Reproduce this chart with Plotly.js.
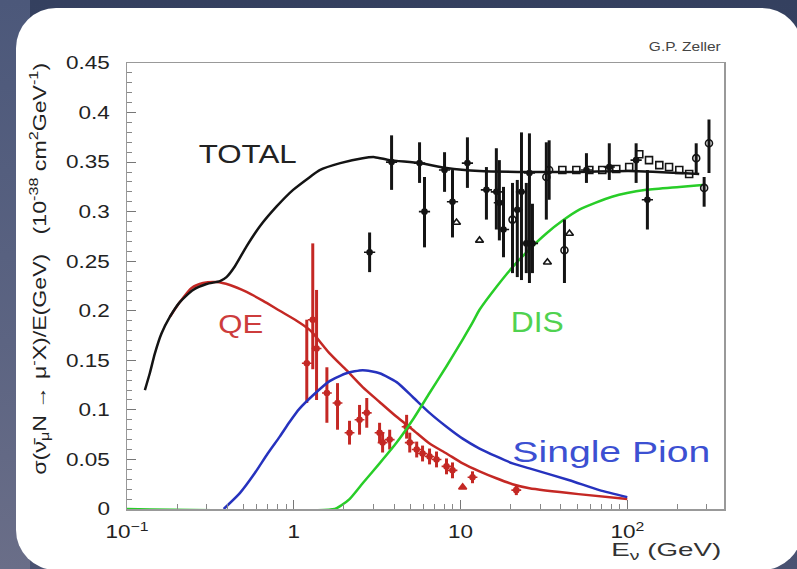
<!DOCTYPE html>
<html>
<head>
<meta charset="utf-8">
<script src="https://cdn.plot.ly/plotly-3.0.1.min.js"></script>
<style>
  html, body { margin: 0; padding: 0; }
  body { width: 797px; height: 569px; overflow: hidden; position: relative;
         background: linear-gradient(180deg, #34405f 0%, #3d4868 60%, #4a5272 100%); }
  #edge { position: absolute; left: 0; top: 0; width: 30px; height: 569px;
          background: linear-gradient(180deg, #4c587a 0%, #5c6482 60%, #6a6e88 100%); }
  #panel { position: absolute; left: 16px; top: 8px; width: 786px; height: 562px;
           background: #ffffff; border-radius: 40px; }
  #chart { position: absolute; left: 0; top: 0; width: 797px; height: 569px; }
</style>
</head>
<body>
<div id="edge"></div>
<div id="panel"></div>
<div id="chart"></div>
<script>
// ---- Theory curves (E in GeV, sigma/E in 1e-38 cm^2/GeV) ----
const totalE = [0.128, 0.137, 0.147, 0.161, 0.181, 0.208, 0.249, 0.300, 0.361, 0.395, 0.444, 0.521, 0.625, 0.787, 0.991, 1.25, 1.43, 1.9, 2.59, 3.06, 3.76, 5.68, 8.24, 13, 25.9, 51, 102, 270];
const totalY = [0.120, 0.137, 0.157, 0.177, 0.194, 0.209, 0.221, 0.227, 0.230, 0.234, 0.245, 0.265, 0.285, 0.305, 0.322, 0.335, 0.342, 0.349, 0.354, 0.355, 0.352, 0.349, 0.344, 0.341, 0.340, 0.340, 0.341, 0.338];

const qeE = [0.181, 0.208, 0.244, 0.286, 0.344, 0.414, 0.521, 0.655, 0.824, 1.04, 1.22, 1.31, 1.64, 2.07, 2.59, 3.27, 4.14, 5.17, 6.52, 8.24, 10.3, 13, 16.4, 20.5, 25.9, 51, 100];
const qeY = [0.194, 0.209, 0.223, 0.228, 0.229, 0.226, 0.219, 0.210, 0.200, 0.190, 0.182, 0.177, 0.157, 0.140, 0.123, 0.108, 0.093, 0.080, 0.066, 0.056, 0.046, 0.038, 0.031, 0.025, 0.021, 0.015, 0.010];

const piE = [0.38, 0.475, 0.583, 0.698, 0.824, 0.946, 1.08, 1.31, 1.64, 2.07, 2.59, 3.27, 4.14, 5.17, 6.52, 8.24, 10.3, 13, 16.4, 20.5, 25.9, 45, 68, 100];
const piY = [0, 0.016, 0.036, 0.056, 0.073, 0.088, 0.101, 0.115, 0.129, 0.137, 0.140, 0.137, 0.128, 0.113, 0.097, 0.083, 0.071, 0.061, 0.053, 0.046, 0.041, 0.029, 0.019, 0.012];

const disE = [0.1, 1.76, 1.94, 2.16, 2.59, 3.27, 4.14, 5.17, 6.52, 8.24, 10.3, 11.8, 13, 16.4, 20.5, 25.9, 32.7, 41, 51.6, 81, 130, 205, 282];
const disY = [0, 0, 0.004, 0.010, 0.026, 0.046, 0.067, 0.090, 0.117, 0.144, 0.171, 0.188, 0.201, 0.224, 0.244, 0.262, 0.278, 0.291, 0.302, 0.315, 0.322, 0.325, 0.327];

// ---- QE measurements (red) ----
const redE = [1.197, 1.30, 1.37, 1.58, 1.83, 2.16, 2.48, 2.74, 3.27, 3.41, 3.76, 4.75, 4.96, 5.46, 5.92, 6.52, 7.18, 8.24, 8.95, 11.8, 21.6];
const redY = [0.147, 0.191, 0.162, 0.117, 0.107, 0.077, 0.090, 0.097, 0.077, 0.067, 0.070, 0.083, 0.067, 0.060, 0.056, 0.053, 0.050, 0.043, 0.039, 0.032, 0.019];
const redErrUp = [0.044, 0.077, 0.059, 0.026, 0.020, 0.012, 0.015, 0.015, 0.010, 0.010, 0.010, 0.012, 0.010, 0.008, 0.008, 0.008, 0.008, 0.008, 0.008, 0.006, 0.005];
const redErrDn = [0.040, 0.050, 0.052, 0.030, 0.027, 0.012, 0.015, 0.015, 0.010, 0.010, 0.010, 0.012, 0.010, 0.008, 0.008, 0.008, 0.008, 0.008, 0.008, 0.006, 0.005];
const redTriE = [10.3];
const redTriY = [0.022];

// ---- Inclusive measurements (black) ----
const blkE = [2.85, 3.86, 5.68, 6.08, 8.02, 8.95, 11.0, 14.3, 16.4, 17.1, 18.1, 21.9, 23.2, 24.8, 25.9, 27.0, 56.9, 78, 113, 132];
const blkY = [0.259, 0.350, 0.349, 0.300, 0.342, 0.310, 0.349, 0.322, 0.320, 0.309, 0.282, 0.302, 0.320, 0.268, 0.339, 0.268, 0.342, 0.345, 0.352, 0.312];
const blkErrUp = [0.020, 0.027, 0.021, 0.035, 0.018, 0.032, 0.026, 0.023, 0.044, 0.043, 0.043, 0.030, 0.060, 0.061, 0.040, 0.040, 0.017, 0.024, 0.017, 0.030];
const blkErrDn = [0.020, 0.028, 0.020, 0.036, 0.022, 0.036, 0.025, 0.030, 0.038, 0.038, 0.028, 0.068, 0.089, 0.030, 0.111, 0.030, 0.013, 0.013, 0.023, 0.030];

const circE = [20.5, 32.7, 34.0, 42, 259, 289, 309];
const circY = [0.292, 0.335, 0.342, 0.261, 0.354, 0.324, 0.369];
const circErrUp = [0.037, 0.035, 0.030, 0.031, 0.015, 0.011, 0.024];
const circErrDn = [0.054, 0.043, 0.030, 0.033, 0.015, 0.019, 0.030];

const triE = [9.46, 13.0, 33.2, 45];
const triY = [0.289, 0.271, 0.249, 0.278];

const sqE = [40.8, 49.5, 59.2, 70.8, 85.9, 102.7, 118, 135, 155.6, 178, 205, 235];
const sqY = [0.342, 0.342, 0.342, 0.342, 0.343, 0.345, 0.358, 0.352, 0.347, 0.345, 0.342, 0.338];

// ---- Axis labels ----
const xTickVals = [0.1, 1, 10, 100];
const xTickText = ['10<sup>−1</sup>', '1', '10', '10<sup>2</sup>'];
const xMinorVals = [0.2,0.3,0.4,0.5,0.6,0.7,0.8,0.9,2,3,4,5,6,7,8,9,20,30,40,50,60,70,80,90,200,300];

const RED = 'rgb(196,40,36)';
const BLUE = 'rgb(38,50,190)';
const GREEN = 'rgb(40,205,40)';
const BLACK = 'rgb(20,20,20)';

function curve(x, y, color) {
  return { x: x, y: y, type: 'scatter', mode: 'lines', line: { color: color, width: 2.5, shape: 'spline', smoothing: 0.6 }, hoverinfo: 'skip' };
}
function pts(x, y, up, dn, color, symbol, size) {
  const t = { x: x, y: y, type: 'scatter', mode: 'markers', marker: { color: color, symbol: symbol, size: size, line: { color: color, width: 1.6 } }, hoverinfo: 'skip' };
  if (up) t.error_y = { type: 'data', symmetric: false, array: up, arrayminus: dn, thickness: 3, width: 0, color: color };
  return t;
}

const traces = [
  pts(redE, redY, redErrUp, redErrDn, RED, 'cross-thin', 7),
  pts(redE, redY, null, null, RED, 'circle', 5),
  pts(redTriE, redTriY, null, null, RED, 'triangle-up', 7),
  curve(qeE, qeY, RED),
  curve(piE, piY, BLUE),
  curve(disE, disY, GREEN),
  pts(blkE, blkY, blkErrUp, blkErrDn, BLACK, 'cross-thin', 8),
  pts(blkE, blkY, null, null, BLACK, 'circle', 5),
  pts(circE, circY, circErrUp, circErrDn, BLACK, 'circle-open', 7),
  pts(triE, triY, null, null, BLACK, 'triangle-up-open', 7),
  pts(sqE, sqY, null, null, BLACK, 'square-open', 7),
  curve(totalE, totalY, BLACK)
];

// plot area: x 127..724, y 63..509 (pixels)
const L = 127, R = 724, T = 63, B = 509;
function px(x) { return (x - L) / (R - L); }
function py(y) { return (B - y) / (B - T); }
const FONT = 'Liberation Sans, Arial, sans-serif';

const annotations = [
  { text: 'TOTAL', x: px(247), y: py(154), font: { size: 26, color: '#222' } },
  { text: 'QE', x: px(241), y: py(324), font: { size: 26, color: 'rgb(205,60,60)' } },
  { text: 'DIS', x: px(537), y: py(322), font: { size: 29, color: 'rgb(80,210,80)' } },
  { text: 'Single Pion', x: px(611), y: py(452), font: { size: 29, color: 'rgb(60,80,210)' } },
  { text: 'G.P. Zeller', x: px(723), y: py(47), xanchor: 'right', font: { size: 12, color: '#444' } },
  { text: 'E<sub>ν</sub> (GeV)', x: px(723), y: py(551), xanchor: 'right', font: { size: 18, color: '#333' } },
  { text: 'σ(ν̄<sub>μ</sub>N → μ<sup>-</sup>X)/E(GeV)   (10<sup>-38</sup> cm<sup>2</sup>GeV<sup>-1</sup>)', x: px(39), y: py(269), textangle: -90, font: { size: 18, color: '#222' } }
].map(a => Object.assign({ xref: 'paper', yref: 'paper', showarrow: false, xanchor: 'center', yanchor: 'middle', font: {} }, a, { font: Object.assign({ family: FONT }, a.font) }));

// target rendered widths and scaling anchor for each annotation
const annStretch = [ [98,'c'], [45,'c'], [53,'c'], [198,'c'], [72,'r'], [110,'r'], [412,'c'] ];

const layout = {
  width: 797, height: 569,
  margin: { l: L, r: 797 - R, t: T, b: 569 - B },
  paper_bgcolor: 'rgba(0,0,0,0)',
  plot_bgcolor: '#ffffff',
  showlegend: false,
  font: { family: FONT, size: 18, color: '#222' },
  xaxis: {
    type: 'log', range: [-1, 2.58],
    tickmode: 'array', tickvals: xTickVals, ticktext: xTickText,
    ticks: 'inside', ticklen: 9, tickwidth: 1.2, tickcolor: '#777',
    minor: { tickmode: 'array', tickvals: xMinorVals, ticks: 'inside', ticklen: 5, tickwidth: 1, tickcolor: '#888' },
    showline: true, linecolor: '#999', linewidth: 1.5, mirror: true,
    showgrid: false, zeroline: false, ticklabelstandoff: 6,
    tickfont: { size: 18, color: '#222' }
  },
  yaxis: {
    range: [0, 0.45], tick0: 0, dtick: 0.05,
    ticks: 'inside', ticklen: 9, tickwidth: 1.2, tickcolor: '#777',
    minor: { dtick: 0.01, ticks: 'inside', ticklen: 5, tickwidth: 1, tickcolor: '#888' },
    showline: true, linecolor: '#999', linewidth: 1.5, mirror: true,
    showgrid: false, zeroline: false, ticklabelstandoff: 12,
    tickfont: { size: 18, color: '#222' }
  },
  annotations: annotations
};

function stretchEl(el, s, anchor) {
  const b = el.getBBox();
  if (!b.width) return;
  const cx = anchor === 'r' ? b.x + b.width : (anchor === 'l' ? b.x : b.x + b.width / 2);
  const tr = el.getAttribute('transform') || '';
  el.setAttribute('transform', tr + ' translate(' + cx + ',0) scale(' + s + ',1) translate(' + (-cx) + ',0)');
}

Plotly.newPlot('chart', traces, layout, { staticPlot: true, displayModeBar: false }).then(gd => {
  gd.querySelectorAll('g.ytick text').forEach(t => stretchEl(t, 1.25, 'r'));
  gd.querySelectorAll('g.xtick text').forEach(t => stretchEl(t, 1.25, 'c'));
  const ann = gd.querySelectorAll('g.annotation text.annotation-text');
  ann.forEach((t, i) => {
    const spec = annStretch[i];
    if (!spec) return;
    const w = t.getBBox().width;
    if (w > 0) stretchEl(t, spec[0] / w, spec[1]);
  });
});
</script>
</body>
</html>
